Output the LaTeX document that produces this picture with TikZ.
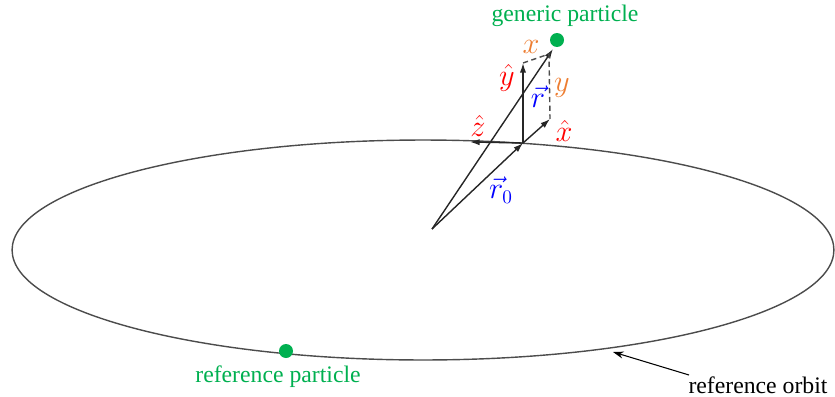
\documentclass[tikz,border=0pt]{standalone}
\usepackage{amsmath}
\usepackage{fontspec}
\setmainfont{Liberation Serif}
\usepackage{tikz}
\usetikzlibrary{arrows.meta}
\definecolor{partgreen}{HTML}{00B050}
\definecolor{coordorange}{HTML}{ED7D31}

\begin{document}
\begin{tikzpicture}[
        x=0.02cm, y=-0.02cm,
        vec/.style={-{Latex[length=5.5pt,width=3.6pt]}, line width=0.8pt, draw=black!85},
        orbit/.style={draw=black!70, line width=0.8pt},
        guide/.style={dashed, dash pattern=on 3pt off 2pt, line width=0.8pt, draw=black!70},
        dot/.style={circle, fill=partgreen, inner sep=0pt, minimum size=0.28cm},
        lbl/.style={font=\fontsize{13.5}{16}\selectfont, inner sep=1pt},
        mlbl/.style={font=\fontsize{16}{18}\selectfont, inner sep=1pt}
    ]
    \useasboundingbox (0,0) rectangle (835,396);
    % orbit
    \draw[orbit] (423,250) ellipse [x radius=8.22cm, y radius=2.2cm];
    % frame points
    \coordinate (O) at (432,229);
    \coordinate (P) at (523,143);
    \coordinate (xtip) at (550,119);
    \coordinate (ztip) at (470,142);
    \coordinate (ytip) at (523,63);
    \coordinate (rtip) at (553,49);
    \coordinate (corner) at (549,54);
    \coordinate (orbitpt) at (613,352);
    \coordinate (orbitfrom) at (689,375);
    % particles
    \node[dot] (gen) at (557,40) {};
    \node[dot] (ref) at (286,351) {};
    \node[lbl, text=partgreen] (genlbl) at (565,16) {generic particle};
    \node[lbl, text=partgreen] (reflbl) at (278,377) {reference particle};
    \node[lbl] (orbitlbl) at (758,385) {reference orbit};
    % vectors
    \draw[vec] (O) -- (P);
    \draw[vec] (O) -- (rtip);
    \draw[vec] (P) -- (xtip);
    \draw[vec] (P) -- (ztip);
    \draw[vec] (P) -- (ytip);
    \draw[guide] (ytip) -- (corner) -- (xtip);
    \draw[-{Stealth[length=6pt,width=4pt]}, line width=0.6pt] (orbitfrom) -- (orbitpt);
    % labels
    \node[mlbl, text=coordorange] (xlbl) at (531,47) {$x$};
    \node[mlbl, text=coordorange] (ylbl) at (562,88) {$y$};
    \node[mlbl, text=red] (yhat) at (507,78) {$\hat{y}$};
    \node[mlbl, text=blue] (rlbl) at (538,97) {$\vec{r}$};
    \node[mlbl, text=red] (zhat) at (478,126) {$\hat{z}$};
    \node[mlbl, text=red] (xhat) at (564,131) {$\hat{x}$};
    \node[mlbl, text=blue] (r0lbl) at (501,190) {$\vec{r}_0$};
  \end{tikzpicture}
\end{document}
